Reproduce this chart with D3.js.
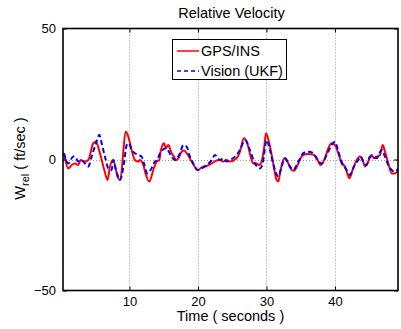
<!DOCTYPE html>
<html><head><meta charset="utf-8">
<script src="https://cdn.jsdelivr.net/npm/d3@7"></script>
<style>
html,body{margin:0;padding:0;background:#fff;}
svg{display:block;font-family:"Liberation Sans",Arial,Helvetica,sans-serif;}
</style></head>
<body>
<svg id="chart" width="401" height="329"></svg>
<script>
const title = "Relative Velocity";
const xLabel = "Time ( seconds )";
const seriesNames = ["GPS/INS", "Vision (UKF)"];
const xTicks = [10, 20, 30, 40];
const yTicks = [-50, 0, 50];
const xDomain = [0.3, 49.2];
const yDomain = [-50, 50];

const gpsT = [0.44,1.07,1.56,2.04,2.53,2.87,3.50,3.99,4.72,5.11,5.69,6.33,6.81,7.15,7.64,8.03,8.37,8.61,9.49,9.83,10.32,10.8,11.29,11.53,12.02,12.41,12.9,13.48,13.97,14.36,14.55,15.04,15.33,15.67,16.16,16.5,16.79,17.13,17.62,17.96,18.35,19.08,19.71,20.05,20.54,21.27,22.0,22.73,23.21,23.7,24.18,24.67,25.64,26.13,26.71,27.2,27.69,28.08,28.56,28.95,29.29,29.68,29.93,30.41,30.9,31.48,31.73,31.97,32.46,32.7,33.19,33.67,34.01,34.65,35.13,35.86,36.59,37.22,37.71,37.91,38.54,39.03,39.51,40.0,40.49,40.97,41.46,41.95,42.09,42.58,43.06,43.65,44.04,44.38,44.86,45.35,45.69,46.08,46.57,46.96,47.3,47.78,48.27,48.76,49.24];
const gpsV = [2.4,-3.4,-2.1,-1.5,-2.1,-0.2,-0.8,-0.2,6.2,6.8,2.4,-4.0,-7.8,-2.7,-0.2,-4.0,-7.2,-7.8,10.6,8.7,3.6,-0.2,-0.8,-0.2,-2.1,-5.9,-8.4,-4.0,-0.8,-0.2,3.0,6.2,4.3,5.5,2.4,1.1,-0.2,0.45,3.0,3.4,2.4,-0.8,-3.4,-4.0,-3.0,-2.5,-1.5,-0.4,-0.2,-0.8,-0.2,-0.8,0.45,3.0,8.1,6.2,1.1,-1.5,-1.5,-2.1,-0.8,4.9,10.0,6.2,-0.2,-7.8,-8.4,-5.3,-0.2,0.45,-1.5,-4.0,-4.3,-1.5,1.1,2.1,2.0,1.1,-1.5,-2.1,0.45,4.3,6.2,5.5,2.4,-1.5,-2.7,-6.5,-7.2,-4.0,-0.8,1.1,-0.2,-2.7,-0.8,1.7,0.45,1.1,1.7,5.5,3.0,-1.5,-5.3,-5.3,-4.0];

const visT = [0.44,1.07,1.80,2.04,2.53,2.87,3.50,3.99,4.48,5.11,5.6,5.94,6.42,6.91,7.4,7.64,8.03,8.61,9.2,9.59,9.93,10.32,10.8,11.29,11.78,12.12,12.6,13.09,13.72,14.06,14.45,15.33,16.16,16.64,17.37,17.86,18.35,18.83,19.32,19.9,20.54,21.27,22.0,22.48,23.21,23.7,24.18,24.67,25.40,26.13,26.86,27.59,28.32,29.05,29.44,30.02,30.51,31.09,31.73,32.21,32.7,33.43,33.92,34.65,35.38,36.11,36.84,37.42,38.05,38.78,39.51,40.0,40.49,40.97,41.7,42.19,42.77,43.4,43.75,44.23,44.62,45.11,45.59,46.08,46.81,47.3,47.78,48.27,48.76,49.24];
const visV = [2.4,-1.5,1.1,1.1,-0.8,-0.2,-1.5,-2.7,1.1,6.2,9.4,6.2,1.1,-3.4,-4.0,-0.2,-4.0,-7.8,-1.5,5.5,6.2,3.6,2.4,1.7,1.1,-1.5,-5.3,-4.0,-0.8,-0.2,2.4,4.3,1.1,-0.2,2.4,5.5,4.9,1.1,-1.5,-4.0,-3.4,-2.1,-0.2,1.7,-0.2,0.45,-0.8,-0.2,1.1,3.6,7.4,3.6,-1.5,-3.4,-1.5,7.4,3.6,-2.7,-6.5,-2.7,0.45,-2.7,-4.0,-0.8,2.4,3.0,2.4,-0.2,-1.5,1.7,5.5,6.8,3.0,-0.8,-4.0,-5.9,-2.7,-0.2,1.1,-1.5,-2.1,1.1,1.1,0.45,3.6,1.1,-2.1,-4.0,-4.6,-3.4];

const svg = d3.select("#chart");
const m = {left: 63, right: 398, top: 28.5, bottom: 290.5};
const x = d3.scaleLinear().domain(xDomain).range([m.left, m.right]);
const y = d3.scaleLinear().domain(yDomain).range([m.bottom, m.top]);

// grid
const grid = svg.append("g").attr("stroke", "#999").attr("stroke-width", 1).attr("stroke-dasharray", "1,2");
grid.selectAll("line.gx").data(xTicks).join("line")
  .attr("x1", d => Math.round(x(d)) + 0.5).attr("x2", d => Math.round(x(d)) + 0.5)
  .attr("y1", m.top).attr("y2", m.bottom);
grid.selectAll("line.gy").data(yTicks.filter(d => d !== yDomain[0] && d !== yDomain[1])).join("line")
  .attr("y1", d => Math.round(y(d)) + 0.5).attr("y2", d => Math.round(y(d)) + 0.5)
  .attr("x1", m.left).attr("x2", m.right);

// lines
svg.append("clipPath").attr("id", "clip").append("rect")
  .attr("x", m.left).attr("y", m.top).attr("width", m.right - m.left).attr("height", m.bottom - m.top);
const line = d3.line().x(d => x(d[0])).y(d => y(d[1])).curve(d3.curveMonotoneX);
svg.append("path").datum(gpsT.map((t, i) => [t, gpsV[i]]))
  .attr("d", line).attr("fill", "none").attr("stroke", "#ff0000").attr("stroke-width", 2)
  .attr("clip-path", "url(#clip)");
svg.append("path").datum(visT.map((t, i) => [t, visV[i]]))
  .attr("d", line).attr("fill", "none").attr("stroke", "#0000ff").attr("stroke-width", 2)
  .attr("stroke-dasharray", "5,3").attr("clip-path", "url(#clip)");

// axes (MATLAB style, inward ticks)
const tickLen = 4;
const axB = svg.append("g").attr("transform", `translate(0,${m.bottom})`)
  .call(d3.axisBottom(x).tickValues(xTicks).tickSize(-tickLen).tickPadding(6));
const axT = svg.append("g").attr("transform", `translate(0,${m.top})`)
  .call(d3.axisTop(x).tickValues(xTicks).tickSize(-tickLen).tickFormat(""));
const axL = svg.append("g").attr("transform", `translate(${m.left},0)`)
  .call(d3.axisLeft(y).tickValues(yTicks).tickSize(-tickLen).tickPadding(7).tickFormat(d => d < 0 ? "\u2212" + Math.abs(d) : d));
const axR = svg.append("g").attr("transform", `translate(${m.right},0)`)
  .call(d3.axisRight(y).tickValues(yTicks).tickSize(-tickLen).tickFormat(""));
[axB, axT, axL, axR].forEach(a => {
  a.select(".domain").remove();
  a.selectAll("line").attr("stroke", "#000");
  a.selectAll("text").attr("font-size", 13).attr("fill", "#000").attr("font-family", "Liberation Sans, Arial, sans-serif");
});
svg.append("rect").attr("x", m.left).attr("y", m.top).attr("width", m.right - m.left).attr("height", m.bottom - m.top)
  .attr("fill", "none").attr("stroke", "#000").attr("stroke-width", 1.6);

// title & labels
svg.append("text").attr("x", (m.left + m.right) / 2 + 1).attr("y", 18).attr("text-anchor", "middle")
  .attr("font-size", 14.5).text(title);
svg.append("text").attr("x", (m.left + m.right) / 2).attr("y", 320.5).attr("text-anchor", "middle")
  .attr("font-size", 14.5).text(xLabel);
const yl = svg.append("text").attr("transform", "translate(25,158.5) rotate(-90)")
  .attr("text-anchor", "middle").attr("font-size", 14.5);
yl.append("tspan").text("W");
yl.append("tspan").attr("font-size", 11).attr("dy", 4).text("rel");
yl.append("tspan").attr("dy", -4).text(" ( ft/sec )");

// legend
const lg = svg.append("g");
lg.append("rect").attr("x", 172.5).attr("y", 39.5).attr("width", 114).attr("height", 40)
  .attr("fill", "#fff").attr("stroke", "#000").attr("stroke-width", 1);
const items = [{n: seriesNames[0], c: "#ff0000", dash: null, yy: 51}, {n: seriesNames[1], c: "#0000ff", dash: "4,3", yy: 71}];
items.forEach(it => {
  lg.append("line").attr("x1", 177).attr("x2", 199).attr("y1", it.yy).attr("y2", it.yy)
    .attr("stroke", it.c).attr("stroke-width", 1.5).attr("stroke-dasharray", it.dash);
  lg.append("text").attr("x", 201).attr("y", it.yy + 5).attr("font-size", 14.5).text(it.n);
});
</script>
</body></html>
